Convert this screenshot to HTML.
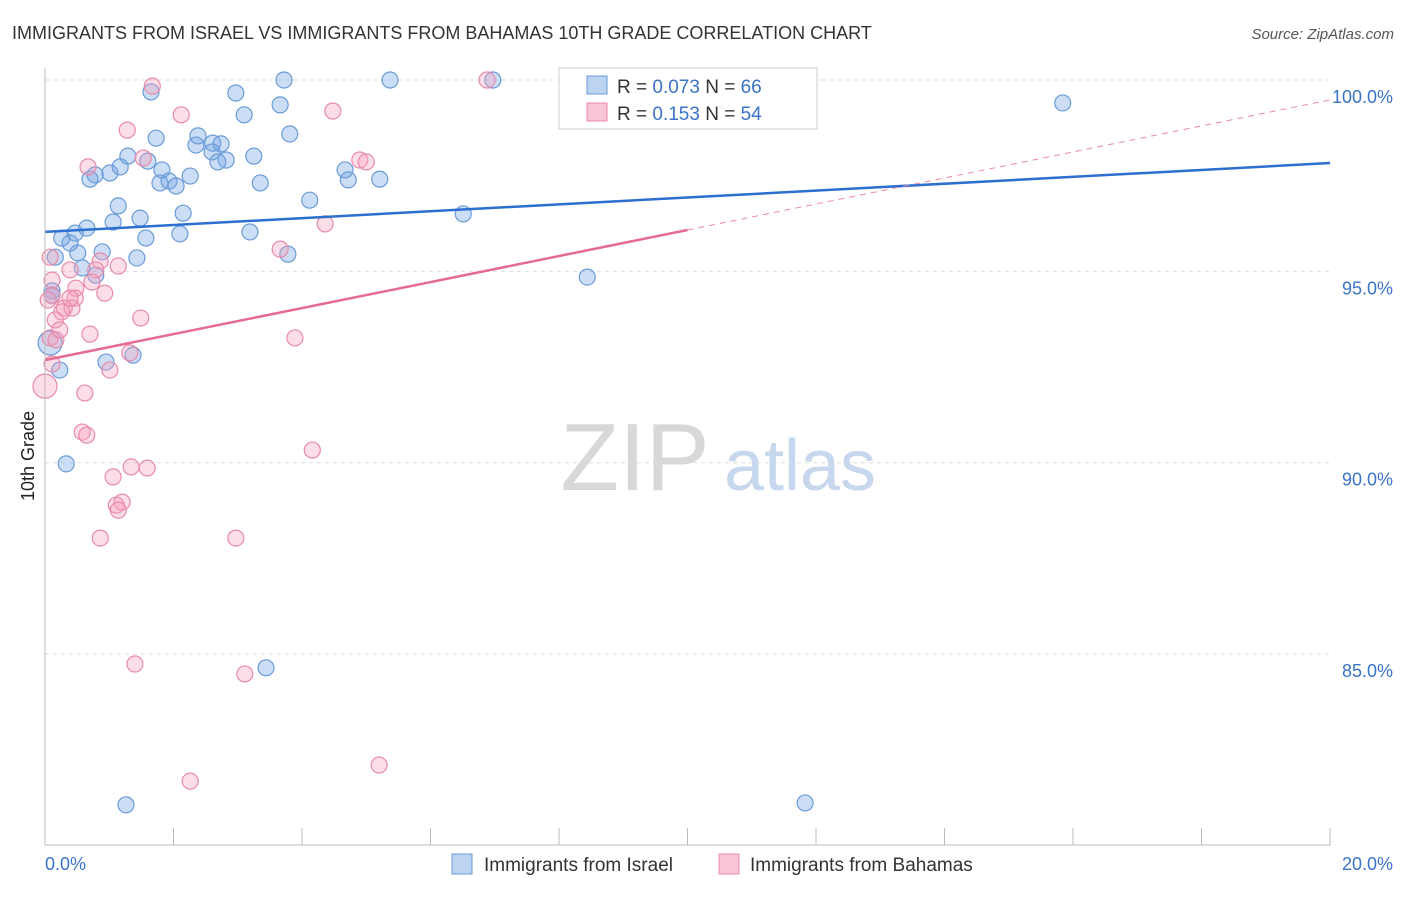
<!DOCTYPE html>
<html><head><meta charset="utf-8"><style>
body{margin:0;background:#fff;font-family:"Liberation Sans",sans-serif;}
svg text{font-family:"Liberation Sans",sans-serif;}
</style></head><body>
<svg id="c" width="1406" height="892" viewBox="0 0 1406 892" xmlns="http://www.w3.org/2000/svg">
<text x="12" y="39" font-size="18" fill="#333">IMMIGRANTS FROM ISRAEL VS IMMIGRANTS FROM BAHAMAS 10TH GRADE CORRELATION CHART</text>
<text x="1394" y="39" font-size="15" fill="#555" text-anchor="end" font-style="italic">Source: ZipAtlas.com</text>
<text x="34" y="456" font-size="18" fill="#222" text-anchor="middle" transform="rotate(-90 34 456)">10th Grade</text>
<g id="grid"></g>
<g><text x="635" y="490" font-size="96" fill="#d8d8d8" font-family="Liberation Serif" text-anchor="middle">ZIP</text><text x="800" y="490" font-size="72" fill="#c7d8ee" text-anchor="middle">atlas</text></g>
<g id="pts"></g>
<g id="lines"></g>
<line x1="45" y1="68" x2="45" y2="845" stroke="#bbb"/>
<line x1="45" y1="845" x2="1330" y2="845" stroke="#bbb"/>
<g>
<rect x="559" y="68" width="258" height="61" fill="#fff" stroke="#ccc"/>
<rect x="587" y="76" width="20" height="18" fill="#bcd3f2" stroke="#6a9bd8"/>
<text x="617" y="93" font-size="19" fill="#333">R = <tspan fill="#3a74c8">0.073</tspan>   N = <tspan fill="#3a74c8">66</tspan></text>
<rect x="587" y="103" width="20" height="18" fill="#f8c6d6" stroke="#e88aaa"/>
<text x="617" y="120" font-size="19" fill="#333">R =  <tspan fill="#3a74c8">0.153</tspan>   N = <tspan fill="#3a74c8">54</tspan></text>
</g>
<g>
<rect x="452" y="854" width="20" height="20" fill="#bcd3f2" stroke="#6a9bd8"/>
<text x="484" y="871" font-size="19" fill="#333">Immigrants from Israel</text>
<rect x="719" y="854" width="20" height="20" fill="#f8c6d6" stroke="#e88aaa"/>
<text x="750" y="871" font-size="19" fill="#333">Immigrants from Bahamas</text>
</g>
<text x="45" y="870" font-size="18" fill="#3a74c8">0.0%</text>
<text x="1393" y="870" font-size="18" fill="#3a74c8" text-anchor="end">20.0%</text>
</svg>
<script>
const yTicks=[100,95,90,85];
const xTicks=[0,2,4,6,8,10,12,14,16,18,20];
const israelX=[3.72,5.37,6.97,10.41,10.85,1.65,2.97,3.66,3.10,15.84,1.73,2.38,3.81,2.35,2.61,2.74,2.60,1.29,3.25,2.82,2.69,1.60,1.17,1.82,1.01,0.78,0.70,1.93,1.79,2.04,2.26,3.35,4.67,4.72,5.21,4.12,1.14,2.15,6.51,1.48,1.06,0.65,2.10,0.47,0.26,1.57,3.19,0.39,0.89,0.51,0.16,1.43,3.78,0.58,0.79,8.44,0.11,0.11,0.08,1.37,0.95,0.23,0.33,3.44,1.26,11.83];
const israelY=[100,100,100,100,100,99.69,99.66,99.35,99.09,99.40,98.48,98.54,98.59,98.30,98.35,98.33,98.12,98.01,98.01,97.91,97.86,97.88,97.73,97.65,97.57,97.52,97.41,97.36,97.31,97.23,97.49,97.31,97.65,97.39,97.41,96.86,96.71,96.52,96.50,96.39,96.29,96.13,95.98,96.00,95.87,95.87,96.03,95.74,95.51,95.48,95.37,95.35,95.45,95.09,94.90,94.85,94.49,94.38,93.13,92.81,92.63,92.42,89.97,84.64,81.06,81.11];
const bahamasX=[1.67,6.88,2.12,4.48,1.28,1.53,0.67,4.90,5.00,3.66,4.36,0.08,0.86,1.14,0.39,0.79,0.11,0.73,0.48,0.93,0.11,0.47,0.30,0.42,0.26,1.49,0.16,0.70,3.89,0.08,0.17,1.32,1.01,0.0,0.62,0.58,0.65,4.16,1.34,1.59,1.06,1.11,1.20,1.14,0.86,2.97,1.40,3.11,2.26,5.20,0.11,0.23,0.05,0.39];
const bahamasY=[99.84,100,99.09,99.19,98.69,97.96,97.73,97.91,97.86,95.58,96.24,95.37,95.27,95.14,95.04,95.04,94.77,94.72,94.56,94.43,94.36,94.30,94.04,94.04,93.94,93.78,93.73,93.36,93.26,93.26,93.21,92.87,92.42,92.00,91.82,90.80,90.72,90.33,89.89,89.86,89.63,88.89,88.97,88.76,88.03,88.03,84.74,84.48,81.68,82.10,92.58,93.47,94.25,94.30];
const israelTrend=[96.03,97.83];
const bahamasTrend=[92.68,96.08,99.48];
const xs=v=>45+v*64.25, ys=v=>80+(100-v)*38.27;
const NS="http://www.w3.org/2000/svg";
function mk(t,a,p){const e=document.createElementNS(NS,t);for(const k in a)e.setAttribute(k,a[k]);p.appendChild(e);return e;}
const grid=document.getElementById('grid'),pts=document.getElementById('pts'),lines=document.getElementById('lines');
yTicks.forEach(v=>{
 const l=mk('line',{x1:45,x2:1330,y1:ys(v),y2:ys(v),stroke:'#ddd','stroke-dasharray':'4,4'},grid);
 
 
 const t=mk('text',{x:1393,y:ys(v)+23,'font-size':18,fill:'#3a74c8','text-anchor':'end'},grid);
 t.textContent=v.toFixed(1)+'%';
 
 
});
xTicks.forEach(v=>{
 const l=mk('line',{x1:xs(v),x2:xs(v),y1:828,y2:845,stroke:'#bbb'},grid);
 
 
});
israelX.forEach((x,i)=>{
 const c=mk('circle',{cx:xs(x),cy:ys(israelY[i]),r:(x<0.1?12:8),fill:'rgba(110,160,225,0.35)',stroke:'#6a9bd8','stroke-width':1.2},pts);
 
 
});
bahamasX.forEach((x,i)=>{
 const c=mk('circle',{cx:xs(x),cy:ys(bahamasY[i]),r:(x<0.01?12:8),fill:'rgba(245,160,190,0.35)',stroke:'#e88aaa','stroke-width':1.2},pts);
 
 
});
const bl=mk('line',{x1:xs(0),y1:ys(israelTrend[0]),x2:xs(20),y2:ys(israelTrend[1]),stroke:'#2c6fd0','stroke-width':2.5},lines);


const pl=mk('line',{x1:xs(0),y1:ys(bahamasTrend[0]),x2:xs(10),y2:ys(bahamasTrend[1]),stroke:'#e56a95','stroke-width':2.5},lines);


const pd=mk('line',{x1:xs(10),y1:ys(bahamasTrend[1]),x2:xs(20),y2:ys(bahamasTrend[2]),stroke:'#e88aaa','stroke-width':1,'stroke-dasharray':'6,5'},lines);


</script>
</body></html>
